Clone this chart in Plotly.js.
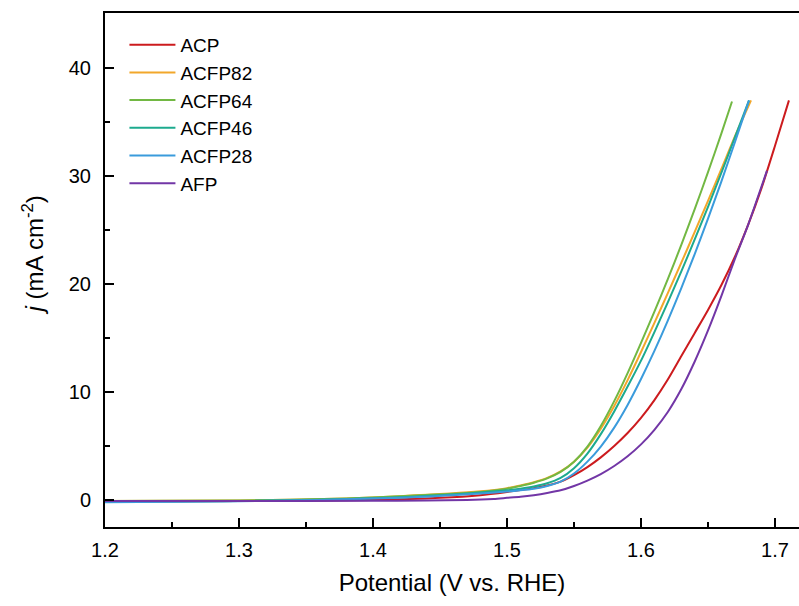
<!DOCTYPE html>
<html>
<head>
<meta charset="utf-8">
<script src="https://cdn.plot.ly/plotly-3.0.1.min.js"></script>
<style>
html,body{margin:0;padding:0;background:#fff;overflow:hidden;}
#chart{width:799px;height:606px;}
</style>
</head>
<body>
<div id="chart"></div>
<script>
// Series names and colours
const seriesNames = ["ACP", "ACFP82", "ACFP64", "ACFP46", "ACFP28", "AFP"];
const seriesColors = ["#CC1B1E", "#F2A72B", "#72B843", "#1DAA8E", "#3A9BDC", "#7236A6"];

// Potential (V vs. RHE) and current density j (mA cm^-2)
const acpV = [1.20, 1.30, 1.40, 1.45, 1.48, 1.50, 1.52, 1.53, 1.54, 1.55, 1.56, 1.57, 1.58, 1.59, 1.60, 1.61, 1.62, 1.63, 1.64, 1.65, 1.66, 1.67, 1.68, 1.69, 1.70, 1.7104];
const acpJ = [-0.15, -0.1, 0.0, 0.2, 0.45, 0.75, 1.1, 1.35, 1.7, 2.3, 3.05, 3.95, 5.0, 6.2, 7.6, 9.25, 11.15, 13.3, 15.45, 17.6, 19.9, 22.5, 25.5, 28.9, 32.8, 37.0];

const acfp82V = [1.20, 1.30, 1.38, 1.42, 1.48, 1.50, 1.51, 1.52, 1.53, 1.54, 1.55, 1.56, 1.57, 1.58, 1.59, 1.60, 1.61, 1.62, 1.63, 1.64, 1.65, 1.66, 1.67, 1.6821];
const acfp82J = [-0.1, -0.05, 0.15, 0.35, 0.8, 1.1, 1.35, 1.65, 2.05, 2.65, 3.55, 4.85, 6.6, 8.7, 11.1, 13.7, 16.4, 19.15, 21.95, 24.8, 27.7, 30.65, 33.65, 37.0];

const acfp64V = [1.20, 1.30, 1.38, 1.42, 1.48, 1.50, 1.51, 1.52, 1.53, 1.54, 1.55, 1.56, 1.57, 1.58, 1.59, 1.60, 1.61, 1.62, 1.63, 1.64, 1.65, 1.66, 1.6679];
const acfp64J = [-0.1, -0.05, 0.15, 0.35, 0.75, 1.05, 1.3, 1.6, 2.0, 2.6, 3.55, 4.95, 6.85, 9.15, 11.75, 14.55, 17.45, 20.45, 23.6, 26.9, 30.35, 33.95, 36.9];

const acfp46V = [1.20, 1.30, 1.42, 1.48, 1.50, 1.51, 1.52, 1.53, 1.54, 1.55, 1.56, 1.57, 1.58, 1.59, 1.60, 1.61, 1.62, 1.63, 1.64, 1.65, 1.66, 1.67, 1.6806];
const acfp46J = [-0.15, -0.1, 0.25, 0.7, 0.9, 1.05, 1.25, 1.55, 2.05, 2.95, 4.3, 6.1, 8.2, 10.5, 12.9, 15.55, 18.3, 21.15, 24.1, 27.15, 30.3, 33.55, 37.0];

const acfp28V = [1.20, 1.30, 1.42, 1.48, 1.50, 1.51, 1.52, 1.53, 1.54, 1.55, 1.56, 1.57, 1.58, 1.59, 1.60, 1.61, 1.62, 1.63, 1.64, 1.65, 1.66, 1.67, 1.6806];
const acfp28J = [-0.2, -0.12, 0.2, 0.6, 0.78, 0.9, 1.05, 1.3, 1.7, 2.45, 3.55, 4.95, 6.7, 8.8, 11.2, 13.8, 16.6, 19.6, 22.75, 26.05, 29.5, 33.1, 37.0];

const afpV = [1.20, 1.30, 1.40, 1.44, 1.47, 1.49, 1.50, 1.51, 1.52, 1.53, 1.54, 1.55, 1.56, 1.57, 1.58, 1.59, 1.60, 1.61, 1.62, 1.63, 1.64, 1.65, 1.66, 1.67, 1.68, 1.694];
const afpJ = [-0.1, -0.1, -0.08, -0.05, 0.0, 0.1, 0.2, 0.3, 0.45, 0.65, 0.9, 1.3, 1.8, 2.4, 3.15, 4.05, 5.15, 6.5, 8.15, 10.25, 12.8, 15.7, 18.9, 22.3, 25.5, 30.5];

// Axis ticks
const xTickVals = [1.2, 1.3, 1.4, 1.5, 1.6, 1.7];
const xTickText = ["1.2", "1.3", "1.4", "1.5", "1.6", "1.7"];
const yTickVals = [0, 10, 20, 30, 40];
const yTickText = ["0", "10", "20", "30", "40"];

const xs = [acpV, acfp82V, acfp64V, acfp46V, acfp28V, afpV];
const ys = [acpJ, acfp82J, acfp64J, acfp46J, acfp28J, afpJ];

const font = "Liberation Sans, Arial, sans-serif";

const traces = seriesNames.map((name, i) => ({
  x: xs[i], y: ys[i], name: name, type: "scatter", mode: "lines",
  line: {color: seriesColors[i], width: 2, shape: "spline", smoothing: 0.7}
}));

const layout = {
  width: 799, height: 606,
  margin: {l: 105, r: 0, t: 13, b: 79},
  paper_bgcolor: "#fff", plot_bgcolor: "#fff",
  font: {family: font, color: "#000", size: 20},
  showlegend: true,
  legend: {
    x: 0.028, y: 0.975, xanchor: "left", yanchor: "top",
    bgcolor: "rgba(0,0,0,0)", borderwidth: 0,
    font: {family: font, size: 19, color: "#000"},
    itemwidth: 46, tracegroupgap: 0
  },
  xaxis: {
    range: [1.2, 1.7179], showgrid: false, zeroline: false,
    showline: true, linecolor: "#000", linewidth: 2, mirror: true,
    ticks: "inside", ticklen: 9, tickwidth: 2, tickcolor: "#000",
    tickvals: xTickVals, ticktext: xTickText, ticklabelstandoff: 4,
    tickfont: {family: font, size: 20, color: "#000"},
    minor: {dtick: 0.05, tick0: 1.2, ticks: "inside", ticklen: 5, tickwidth: 2, tickcolor: "#000"},
    title: {text: "Potential (V vs. RHE)", font: {family: font, size: 24, color: "#000"}, standoff: 14}
  },
  yaxis: {
    range: [-2.5, 45.09], showgrid: false, zeroline: false,
    showline: true, linecolor: "#000", linewidth: 2, mirror: false,
    ticks: "inside", ticklen: 9, tickwidth: 2, tickcolor: "#000",
    tickvals: yTickVals, ticktext: yTickText, ticklabelstandoff: 8,
    tickfont: {family: font, size: 20, color: "#000"},
    minor: {dtick: 5, tick0: 0, ticks: "inside", ticklen: 5, tickwidth: 2, tickcolor: "#000"}
  },
  annotations: [{
    text: "<i>j</i> (mA cm<sup>-2</sup>)", textangle: -90,
    xref: "paper", yref: "paper", x: -0.104, y: 0.53,
    xanchor: "center", yanchor: "middle", showarrow: false,
    font: {family: font, size: 24, color: "#000"}
  }]
};

Plotly.newPlot("chart", traces, layout, {displayModeBar: false, staticPlot: true});
</script>
</body>
</html>
